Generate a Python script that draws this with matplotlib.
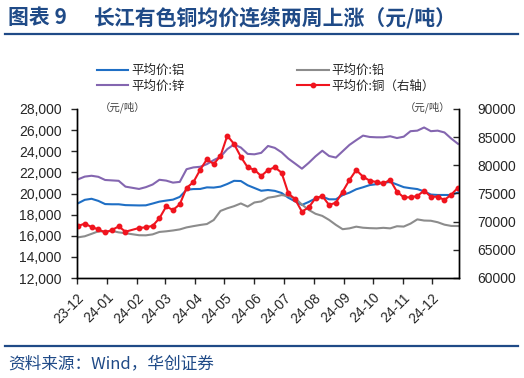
import matplotlib
matplotlib.use("Agg")
import matplotlib.pyplot as plt
import matplotlib.transforms as mtransforms
from matplotlib.lines import Line2D
import pandas as pd
import numpy as np

plt.rcParams['font.family'] = ['Liberation Sans', 'Noto Sans CJK SC', 'DejaVu Sans']

# weekly dates (one holiday week has no data)
all_weeks = pd.date_range('2023-12-01', '2024-12-27', freq='7D')
skip_week = pd.Timestamp('2024-01-26')
dates = all_weeks[all_weeks != skip_week]

aluminum = [19070, 19400, 19500, 19300, 19000, 18980, 18980, 18900,
            18870, 18880, 19050, 19230, 19330, 19420, 19680, 20350, 20420, 20430, 20580, 20560,
            20650, 20900, 21200, 21180, 20780, 20520, 20260, 20330, 20250, 20050, 19600, 19250,
            18920, 19200, 19530, 19700, 19450, 19450, 19850, 20080, 20400, 20590, 20800, 20880,
            21000, 21100, 20850, 20600, 20500, 20420, 20200, 19900, 19860, 19860, 19860, 20100]
zinc = [21340, 21600, 21680, 21580, 21280, 21240, 21200, 20650,
        20430, 20600, 20850, 21300, 21220, 21030, 21100, 22300, 22470, 22530, 22780, 23160,
        23480, 24200, 24650, 24350, 23750, 23710, 23850, 24500, 24320, 23900, 23300, 22830,
        22350, 22900, 23520, 24050, 23550, 23400, 24000, 24600, 25050, 25480, 25350, 25320,
        25320, 25420, 25250, 25380, 25900, 25950, 26250, 25900, 25950, 25780, 25200, 24700]
lead = [15850, 15950, 16180, 16420, 16400, 16460, 16320, 16240,
        16050, 16040, 16130, 16360, 16420, 16500, 16600, 16790, 16910, 17020, 17110, 17490,
        18350, 18600, 18800, 19060, 18760, 19150, 19250, 19600, 19700, 19850, 19760, 19550,
        18950, 18450, 18080, 17880, 17500, 17030, 16620, 16700, 16860, 16760, 16720, 16700,
        16750, 16700, 16900, 16870, 17150, 17550, 17440, 17420, 17280, 17050, 16930, 16920]
copper = [69230, 69650, 69050, 68640, 68080, 68520, 69160, 68220,
          68880, 69000, 69260, 70600, 72700, 72070, 73080, 76000, 77000, 79200, 81070, 80240,
          81660, 85260, 83790, 81500, 79650, 79200, 78100, 79170, 79650, 78700, 75030, 73970,
          71770, 72550, 74150, 74560, 72960, 73370, 75320, 77400, 79170, 77990, 77270, 77040,
          76810, 77400, 75320, 74320, 74320, 74560, 75500, 74430, 74430, 73850, 74800, 76050]

labels = ['平均价:铝', '平均价:锌', '平均价:铅', '平均价:铜（右轴）']
month_labels = ['23-12', '24-01', '24-02', '24-03', '24-04', '24-05', '24-06',
                '24-07', '24-08', '24-09', '24-10', '24-11', '24-12']
left_ticks = [12000, 14000, 16000, 18000, 20000, 22000, 24000, 26000, 28000]
right_ticks = [60000, 65000, 70000, 75000, 80000, 85000, 90000]

c_al = '#1F6FC5'
c_zn = '#8466B0'
c_pb = '#8C8C8C'
c_cu = '#F0141E'
navy = '#1F4A87'
tick_col = '#262626'
fs = 10

fig = plt.figure(figsize=(5.24, 3.78), dpi=100)
ax = fig.add_axes([77/524, 1-278/378, (459-77)/524, (278-109)/378])
ax2 = ax.twinx()

l_al, = ax.plot(dates, aluminum, color=c_al, lw=1.5)
l_zn, = ax.plot(dates, zinc, color=c_zn, lw=1.5)
l_pb, = ax.plot(dates, lead, color=c_pb, lw=1.5)
l_cu, = ax2.plot(dates, copper, color=c_cu, lw=1.5, marker='o', ms=3.2, mec=c_cu, mfc=c_cu)

ax.set_ylim(12000, 28000)
ax.set_yticks(left_ticks)
ax.set_yticklabels([f'{v:,}' for v in left_ticks])
ax2.set_ylim(60000, 90000)
ax2.set_yticks(right_ticks)
ax2.set_yticklabels([str(v) for v in right_ticks])

tick_pos = pd.date_range('2023-12-01', '2024-12-01', freq='MS') - pd.Timedelta(days=1)
ax.set_xlim(pd.Timestamp('2023-11-30'), pd.Timestamp('2024-12-28'))
ax.set_xticks(tick_pos)
ax.set_xticklabels(month_labels, rotation=45, ha='right', va='top', rotation_mode='anchor')
offset = mtransforms.ScaledTranslation(3/100, 0, fig.dpi_scale_trans)
for lab in ax.get_xticklabels():
    lab.set_transform(lab.get_transform() + offset)

for a in (ax, ax2):
    a.spines['top'].set_visible(False)
    for s in a.spines.values():
        s.set_color('black')
        s.set_linewidth(1.0)
ax.tick_params(axis='y', direction='out', length=4, width=1, labelsize=fs, colors=tick_col, pad=7)
ax.tick_params(axis='x', direction='out', length=4, width=1, labelsize=fs, colors=tick_col, pad=5)
ax2.tick_params(axis='y', direction='in', length=4, width=1, labelsize=fs, colors=tick_col, pad=13)
for a in (ax, ax2):
    for t in a.get_yticklines() + a.get_xticklines():
        t.set_color('black')

ax2.set_zorder(ax.get_zorder() + 1)
ax.patch.set_visible(True)
ax2.patch.set_visible(False)

unit_font = dict(fontsize=7.5, color='#404040', family=['Noto Sans CJK SC'])
fig.text(100/524, 1-107/378, '（元/吨）', ha='left', va='center', **unit_font)
fig.text(450/524, 1-107/378, '（元/吨）', ha='right', va='center', **unit_font)

leg = fig.legend([l_al, l_zn, l_pb, l_cu], labels, ncol=2, frameon=False,
                 loc='upper left', bbox_to_anchor=(92/524, 1-59/378),
                 prop={'family': ['Noto Sans CJK SC'], 'size': 9},
                 handlelength=2.5, handletextpad=0.25, columnspacing=9.0,
                 labelspacing=0.2, borderaxespad=0)
for t in leg.get_texts():
    t.set_color('#262626')

title_font = dict(fontsize=15, fontweight='bold', color=navy, family=['Noto Sans CJK SC'])
fig.text(8/524, 1-18/378, '图表 9', ha='left', va='center', **title_font)
fig.text(94/524, 1-18/378, '长江有色铜均价连续两周上涨（元/吨）', ha='left', va='center', **title_font)
fig.add_artist(Line2D([5/524, 518/524], [1-33.5/378, 1-33.5/378], color=navy, lw=1.6))
fig.add_artist(Line2D([5/524, 518/524], [1-346/378, 1-346/378], color=navy, lw=1.6))
fig.text(8/524, 1-364/378, '资料来源：Wind，华创证券', ha='left', va='center',
         fontsize=12, color=navy, family=['Noto Sans CJK SC'])

fig.savefig('out.png', dpi=100, facecolor='white')
